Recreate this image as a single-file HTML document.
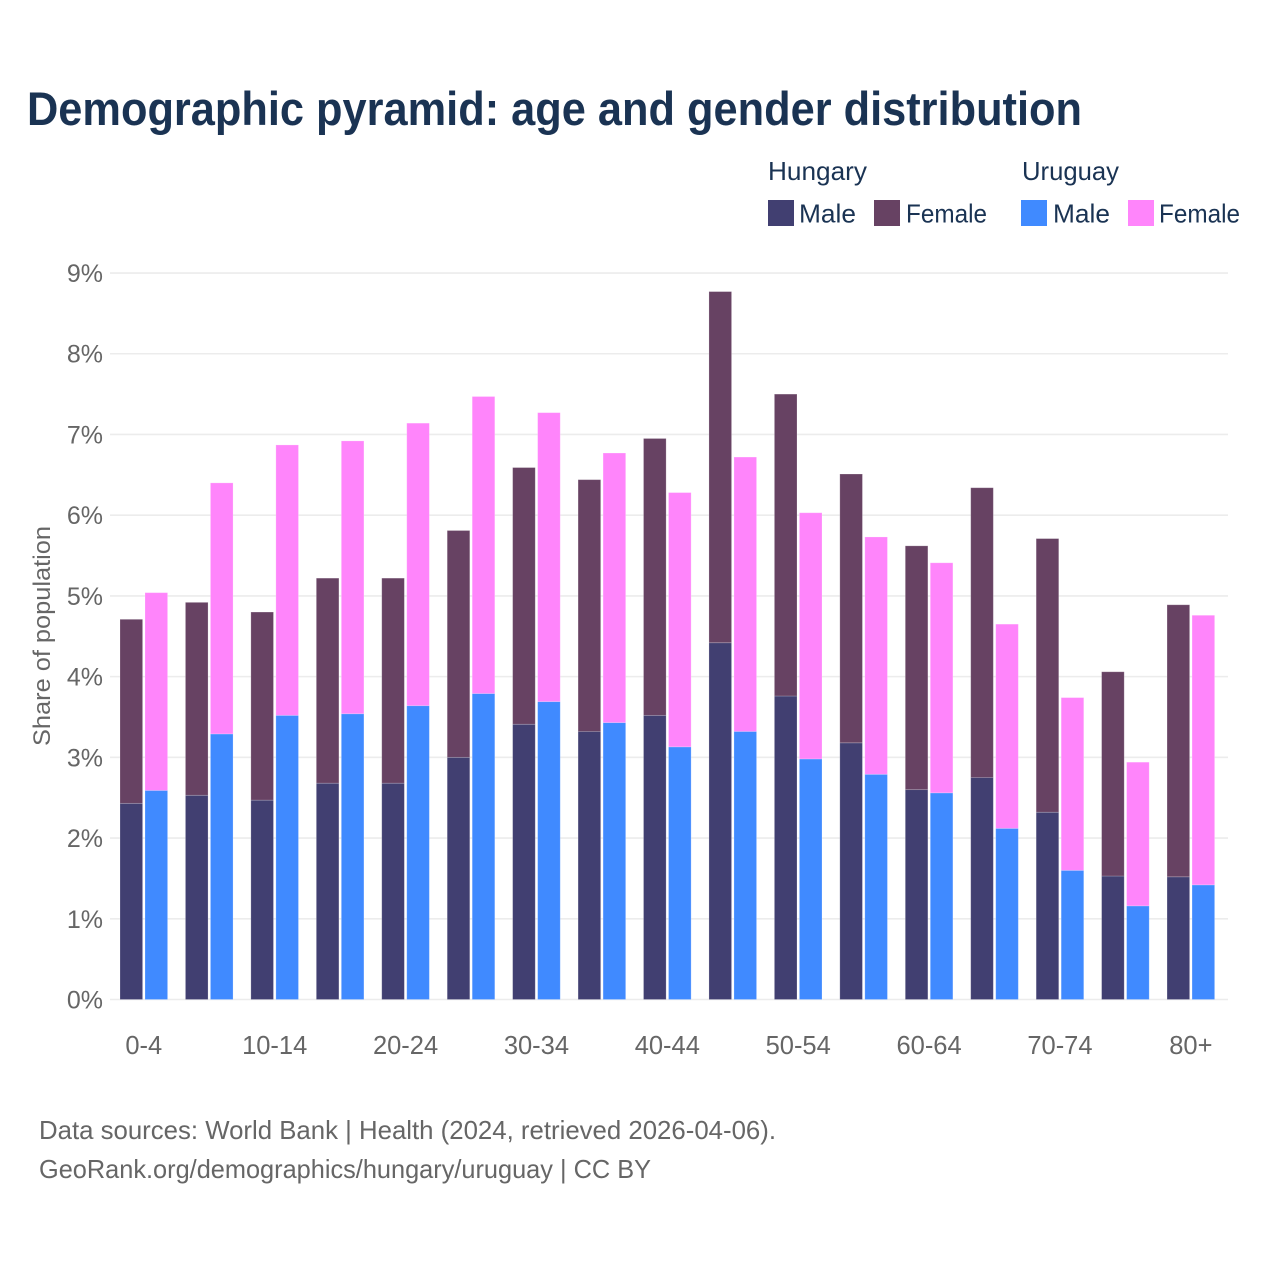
<!DOCTYPE html>
<html lang="en">
<head>
<meta charset="utf-8">
<title>Demographic pyramid</title>
<style>
html,body{margin:0;padding:0;background:#fff;}
svg{display:block;}
text{font-family:"Liberation Sans",sans-serif;}
</style>
</head>
<body>
<svg id="chart" xmlns="http://www.w3.org/2000/svg" width="1280" height="1280" viewBox="0 0 1280 1280">
<rect x="0" y="0" width="1280" height="1280" fill="#ffffff"/>
<text x="27" y="125" font-size="47" font-weight="700" fill="#1a3353" textLength="1055" lengthAdjust="spacingAndGlyphs">Demographic pyramid: age and gender distribution</text>
<g>
<text x="768" y="180" font-size="26" fill="#1a3353" textLength="99" lengthAdjust="spacingAndGlyphs">Hungary</text>
<text x="1022" y="180" font-size="26" fill="#1a3353" textLength="97" lengthAdjust="spacingAndGlyphs">Uruguay</text>
<rect x="768" y="200" width="26" height="26" fill="#413f71"/>
<text x="799" y="222.5" font-size="26" fill="#1a3353" textLength="57" lengthAdjust="spacingAndGlyphs">Male</text>
<rect x="874" y="200" width="26" height="26" fill="#674263"/>
<text x="906" y="222.5" font-size="26" fill="#1a3353" textLength="81" lengthAdjust="spacingAndGlyphs">Female</text>
<rect x="1021" y="200" width="26" height="26" fill="#408aff"/>
<text x="1053" y="222.5" font-size="26" fill="#1a3353" textLength="57" lengthAdjust="spacingAndGlyphs">Male</text>
<rect x="1128" y="200" width="26" height="26" fill="#ff85fb"/>
<text x="1159" y="222.5" font-size="26" fill="#1a3353" textLength="81" lengthAdjust="spacingAndGlyphs">Female</text>
</g>
<text transform="translate(50,746) rotate(-90)" x="0" y="0" font-size="24.5" fill="#666666" textLength="220" lengthAdjust="spacingAndGlyphs">Share of population</text>
<g id="grid"></g>
<g id="yticks"></g>
<g id="xticks"></g>
<g id="bars"></g>
<text x="39" y="1139" font-size="26" fill="#666666" textLength="737" lengthAdjust="spacingAndGlyphs">Data sources: World Bank | Health (2024, retrieved 2026-04-06).</text>
<text x="39" y="1178" font-size="26" fill="#666666" textLength="612" lengthAdjust="spacingAndGlyphs">GeoRank.org/demographics/hungary/uruguay | CC BY</text>
</svg>
<script>
const ageGroups = ['0-4','5-9','10-14','15-19','20-24','25-29','30-34','35-39','40-44','45-49','50-54','55-59','60-64','65-69','70-74','75-79','80+'];
const hungaryMale = [2.43,2.53,2.47,2.68,2.68,3.00,3.41,3.32,3.52,4.42,3.76,3.18,2.60,2.75,2.32,1.53,1.52];
const hungaryFemale = [2.28,2.39,2.33,2.54,2.54,2.81,3.18,3.12,3.43,4.35,3.74,3.33,3.02,3.59,3.39,2.53,3.37];
const uruguayMale = [2.59,3.29,3.52,3.54,3.64,3.79,3.69,3.43,3.13,3.32,2.98,2.79,2.56,2.12,1.60,1.16,1.42];
const uruguayFemale = [2.45,3.11,3.35,3.38,3.50,3.68,3.58,3.34,3.15,3.40,3.05,2.94,2.85,2.53,2.14,1.78,3.34];
const yTickValues = [0,1,2,3,4,5,6,7,8,9];
const xTickLabels = ['0-4','10-14','20-24','30-34','40-44','50-54','60-64','70-74','80+'];
const xTickGroups = ['0-4','10-14','20-24','30-34','40-44','50-54','60-64','70-74','80+'];

const NS = 'http://www.w3.org/2000/svg';
function yScale(v){ return 999.5 - v * 80.72; }
function xScale(i){ return 120 + i * 65.44; }
const barWidth = 22.6;
const seriesOffset = 25;

function mk(tag, attrs, parent){
  const el = document.createElementNS(NS, tag);
  for (const k in attrs) el.setAttribute(k, attrs[k]);
  parent.appendChild(el);
  return el;
}

const grid = document.getElementById('grid');
const yticks = document.getElementById('yticks');
const xticks = document.getElementById('xticks');
const bars = document.getElementById('bars');

yTickValues.forEach(function(v){
  const line = mk('line', {x1:110, x2:1228, y1:yScale(v), y2:yScale(v), stroke:'#ececec', 'stroke-width':1.6}, grid);
  
  
  const t = mk('text', {x:103, y:yScale(v)+9, 'text-anchor':'end', 'font-size':25, fill:'#666666'}, yticks);
  
  
  t.textContent = v + '%';
});

xTickLabels.forEach(function(label, n){
  const i = ageGroups.indexOf(xTickGroups[n]);
  const t = mk('text', {x:xScale(i)+23.8, y:1054, 'text-anchor':'middle', 'font-size':25.5, fill:'#666666'}, xticks);
  
  
  t.textContent = label;
});

function drawBar(x, bottom, value, fill){
  const top = yScale(bottom + value);
  const r = mk('rect', {x:x, y:top, width:barWidth, height:yScale(bottom) - top, fill:fill, stroke:'#ffffff', 'stroke-opacity':0.25, 'stroke-width':0.8}, bars);
  
  
}

ageGroups.forEach(function(g, i){
  const x = xScale(i);
  drawBar(x, 0, hungaryMale[i], '#413f71');
  drawBar(x, hungaryMale[i], hungaryFemale[i], '#674263');
  drawBar(x + seriesOffset, 0, uruguayMale[i], '#408aff');
  drawBar(x + seriesOffset, uruguayMale[i], uruguayFemale[i], '#ff85fb');
});
</script>
</body>
</html>
